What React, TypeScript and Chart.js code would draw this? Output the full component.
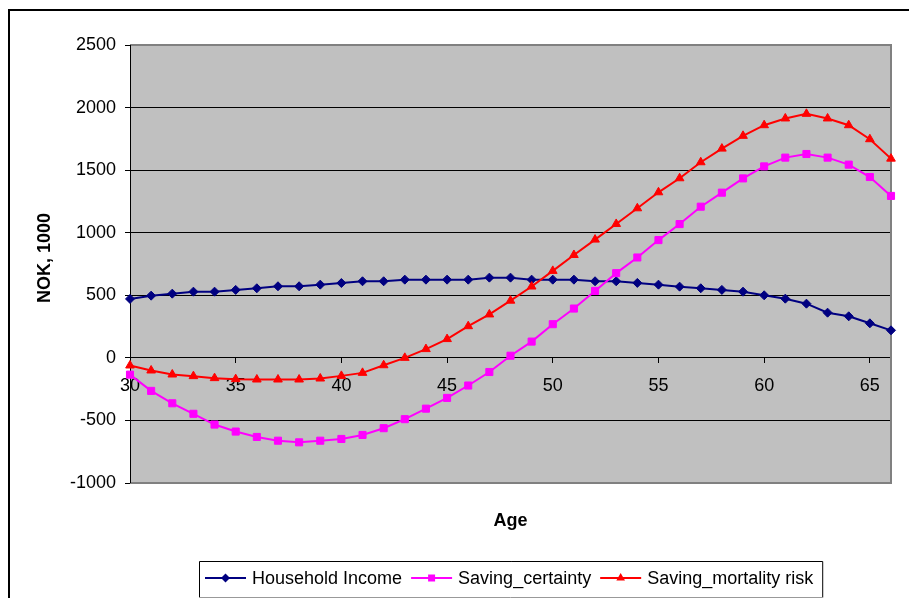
import React, { useEffect, useRef } from "react";
import { Chart, registerables } from "chart.js";

Chart.register(...registerables);

const ages = [30, 31, 32, 33, 34, 35, 36, 37, 38, 39, 40, 41, 42, 43, 44, 45, 46, 47, 48, 49, 50, 51, 52, 53, 54, 55, 56, 57, 58, 59, 60, 61, 62, 63, 64, 65, 66];
const householdIncome = [471, 497, 513, 529, 529, 543, 556, 572, 572, 585, 598, 612, 612, 625, 625, 625, 625, 641, 641, 625, 625, 625, 612, 612, 599, 585, 569, 556, 543, 529, 500, 473, 433, 361, 332, 276, 220];
const savingCertainty = [-134, -264, -363, -447, -533, -589, -632, -662, -675, -662, -648, -616, -562, -490, -406, -320, -221, -113, 17, 130, 269, 394, 535, 677, 802, 941, 1069, 1208, 1320, 1434, 1530, 1600, 1629, 1600, 1544, 1445, 1294];
const savingMortalityRisk = [-61, -101, -133, -146, -162, -170, -173, -173, -173, -165, -144, -120, -59, 0, 70, 150, 253, 347, 457, 570, 695, 822, 945, 1070, 1195, 1323, 1435, 1563, 1672, 1774, 1859, 1913, 1950, 1913, 1859, 1747, 1592];

const xTickValues = [30, 35, 40, 45, 50, 55, 60, 65];
const yTickValues = [-1000, -500, 0, 500, 1000, 1500, 2000, 2500];
const seriesNames = ["Household Income", "Saving_certainty", "Saving_mortality risk"];
const seriesColors = ["#000080", "#FF00FF", "#FF0000"];
const seriesMarkers = ["rectRot", "rect", "triangle"];
const xAxisTitle = "Age";
const yAxisTitle = "NOK, 1000";

const FONT = '"Liberation Sans", Arial, Helvetica, sans-serif';

function drawMarker(ctx: CanvasRenderingContext2D, style: string, x: number, y: number, color: string) {
  ctx.save();
  ctx.fillStyle = color;
  ctx.beginPath();
  if (style === "rectRot") {
    const r = 4.5;
    ctx.moveTo(x, y - r);
    ctx.lineTo(x + r, y);
    ctx.lineTo(x, y + r);
    ctx.lineTo(x - r, y);
  } else if (style === "rect") {
    const h = 3.5;
    ctx.rect(x - h, y - h, 2 * h, 2 * h);
  } else {
    const r = 5;
    ctx.moveTo(x, y - r);
    ctx.lineTo(x + r * 0.866, y + r / 2);
    ctx.lineTo(x - r * 0.866, y + r / 2);
  }
  ctx.closePath();
  ctx.fill();
  ctx.restore();
}

const decorPlugin = {
  id: "decor",
  beforeDraw(chart: any) {
    const { ctx, chartArea: a } = chart;
    ctx.save();
    ctx.fillStyle = "#FFFFFF";
    ctx.fillRect(0, 0, chart.width, chart.height);
    ctx.fillStyle = "#C0C0C0";
    ctx.fillRect(a.left, a.top, a.right - a.left, a.bottom - a.top);
    ctx.fillStyle = "#000000";
    ctx.fillRect(8, 9, chart.width - 8, 2);
    ctx.fillRect(8, 9, 2, chart.height - 9);
    ctx.restore();
  },
  beforeDatasetsDraw(chart: any) {
    const { ctx, chartArea: a } = chart;
    ctx.save();
    ctx.strokeStyle = "#808080";
    ctx.lineWidth = 2;
    ctx.beginPath();
    ctx.moveTo(a.left, a.top);
    ctx.lineTo(a.right, a.top);
    ctx.lineTo(a.right, a.bottom);
    ctx.lineTo(a.left, a.bottom);
    ctx.stroke();
    ctx.strokeStyle = "#000000";
    ctx.lineWidth = 1;
    ctx.beginPath();
    ctx.moveTo(a.left + 0.5, a.top);
    ctx.lineTo(a.left + 0.5, a.bottom);
    ctx.stroke();
    ctx.restore();
  },
  afterDraw(chart: any) {
    const { ctx, chartArea: a } = chart;
    ctx.save();
    ctx.fillStyle = "#000000";
    ctx.font = `bold 18px ${FONT}`;
    ctx.textAlign = "center";
    ctx.textBaseline = "alphabetic";
    ctx.fillText(xAxisTitle, (a.left + a.right) / 2, 526);
    ctx.save();
    ctx.translate(50, 258);
    ctx.rotate(-Math.PI / 2);
    ctx.fillText(yAxisTitle, 0, 0);
    ctx.restore();

    // legend
    ctx.font = `18px ${FONT}`;
    ctx.textAlign = "left";
    const lineLen = 41;
    const gapText = 6;
    const gapItem = 9;
    const widths = seriesNames.map((n) => ctx.measureText(n).width);
    let total = 0;
    widths.forEach((w, i) => {
      total += lineLen + gapText + w + (i < widths.length - 1 ? gapItem : 0);
    });
    const padL = 6;
    const padR = 9;
    const boxW = total + padL + padR;
    const cx = (a.left + a.right) / 2;
    const boxL = Math.round(cx - boxW / 2);
    const boxT = 561;
    const boxB = 597;
    const ly = 578;
    ctx.strokeStyle = "#000000";
    ctx.lineWidth = 1;
    ctx.beginPath();
    ctx.moveTo(boxL + 0.5, boxB + 0.5);
    ctx.lineTo(boxL + 0.5, boxT + 0.5);
    ctx.lineTo(boxL + boxW + 0.5, boxT + 0.5);
    ctx.lineTo(boxL + boxW + 0.5, boxB + 0.5);
    ctx.stroke();
    ctx.strokeStyle = "#999999";
    ctx.beginPath();
    ctx.moveTo(boxL, boxB + 0.5);
    ctx.lineTo(boxL + boxW, boxB + 0.5);
    ctx.stroke();
    let x = boxL + padL;
    seriesNames.forEach((name, i) => {
      ctx.strokeStyle = seriesColors[i];
      ctx.lineWidth = 2;
      ctx.beginPath();
      ctx.moveTo(x, ly);
      ctx.lineTo(x + lineLen, ly);
      ctx.stroke();
      drawMarker(ctx, seriesMarkers[i], x + lineLen / 2, ly, seriesColors[i]);
      ctx.fillStyle = "#000000";
      ctx.fillText(name, x + lineLen + gapText, 584);
      x += lineLen + gapText + widths[i] + gapItem;
    });
    ctx.restore();
  },
};

export default function App() {
  const canvasRef = useRef<HTMLCanvasElement | null>(null);

  useEffect(() => {
    const canvas = canvasRef.current;
    if (!canvas) return;
    const seriesValues = [householdIncome, savingCertainty, savingMortalityRisk];
    const markerRadius = [4.5, 5, 5];
    const orders = [3, 2, 1];
    const chart = new Chart(canvas, {
      type: "line",
      data: {
        datasets: seriesNames.map((name, i) => ({
          label: name,
          data: ages.map((age, j) => ({ x: age, y: seriesValues[i][j] })),
          borderColor: seriesColors[i],
          backgroundColor: seriesColors[i],
          borderWidth: 2,
          pointStyle: seriesMarkers[i] as any,
          pointRadius: markerRadius[i],
          pointBorderWidth: 1,
          pointBackgroundColor: seriesColors[i],
          pointBorderColor: seriesColors[i],
          tension: 0,
          clip: false as any,
          order: orders[i],
        })),
      },
      options: {
        animation: false,
        responsive: false,
        events: [],
        layout: { padding: { left: 0, top: 45, right: 18, bottom: 115 } },
        plugins: {
          legend: { display: false },
          tooltip: { enabled: false },
        },
        scales: {
          x: {
            type: "linear",
            min: 30,
            max: 66,
            position: { y: 0 } as any,
            afterBuildTicks: (axis: any) => {
              axis.ticks = xTickValues.map((v) => ({ value: v }));
            },
            grid: {
              drawOnChartArea: false,
              drawTicks: true,
              tickLength: 5,
              color: "#000000",
              tickColor: "#000000",
            },
            border: { display: true, color: "#000000", width: 1 },
            ticks: {
              font: { size: 18, family: FONT },
              color: "#000000",
              padding: 12,
              maxRotation: 0,
              autoSkip: false,
              callback: (v: any) => String(v),
            },
          },
          y: {
            type: "linear",
            min: -1000,
            max: 2500,
            afterBuildTicks: (axis: any) => {
              axis.ticks = yTickValues.map((v) => ({ value: v }));
            },
            afterFit: (scale: any) => {
              scale.width = 130;
            },
            grid: {
              color: (c: any) =>
                c.tick && (c.tick.value === 2500 || c.tick.value === -1000) ? "rgba(0,0,0,0)" : "#000000",
              tickColor: "#000000",
              tickLength: 5,
              lineWidth: 1,
            },
            border: { display: true, color: "#000000", width: 1 },
            ticks: {
              font: { size: 18, family: FONT },
              color: "#000000",
              padding: 9,
              callback: (v: any) => String(v),
            },
          },
        },
      },
      plugins: [decorPlugin],
    });
    return () => chart.destroy();
  }, []);

  return (
    <canvas
      ref={canvasRef}
      width={909}
      height={598}
      style={{ position: "fixed", left: 0, top: 0, width: 909, height: 598, display: "block" }}
    />
  );
}
